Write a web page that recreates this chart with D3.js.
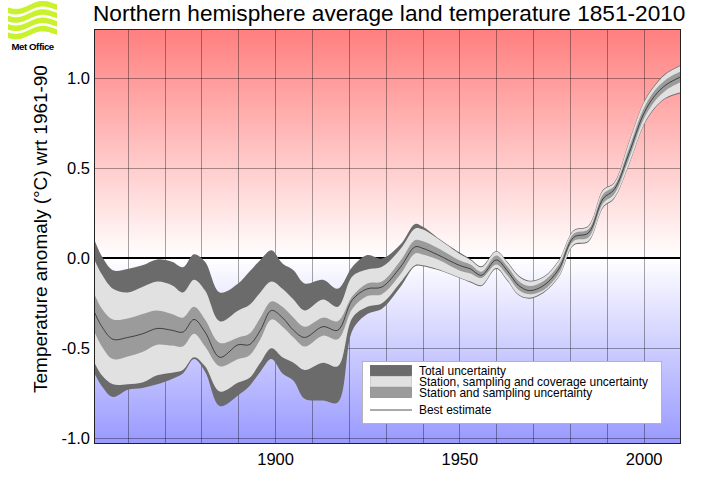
<!DOCTYPE html>
<html><head><meta charset="utf-8">
<script src="https://cdn.jsdelivr.net/npm/d3@7"></script>
<style>html,body{margin:0;padding:0;background:#fff;}svg{display:block;font-family:"Liberation Sans",Arial,Helvetica,sans-serif;}</style>
</head><body>
<script>
// ---- data ----
const years = [1851,1853,1856,1860,1864,1868,1872,1875,1878,1881,1885,1890,1893,1896,1899,1902,1905,1908,1913,1917,1921,1925,1929,1934,1938,1940,1944,1950,1953,1956,1960,1963,1966,1969,1973,1977,1981,1985,1989,1992,1996,2000,2003,2006,2010];
const bestEstimate = [-0.30,-0.38,-0.45,-0.44,-0.42,-0.39,-0.40,-0.41,-0.34,-0.41,-0.55,-0.48,-0.48,-0.40,-0.29,-0.33,-0.40,-0.44,-0.38,-0.40,-0.23,-0.17,-0.16,-0.05,0.063,0.055,0.02,-0.04,-0.06,-0.095,-0.01,-0.07,-0.15,-0.18,-0.15,-0.06,0.115,0.14,0.33,0.38,0.58,0.80,0.90,0.96,1.005];
const stationHi = [-0.20,-0.28,-0.34,-0.335,-0.31,-0.29,-0.31,-0.33,-0.27,-0.34,-0.47,-0.44,-0.42,-0.33,-0.24,-0.27,-0.33,-0.38,-0.33,-0.35,-0.21,-0.14,-0.13,-0.015,0.10,0.095,0.058,-0.012,-0.035,-0.075,0.015,-0.045,-0.125,-0.155,-0.125,-0.035,0.135,0.16,0.355,0.40,0.61,0.83,0.93,0.99,1.035];
const stationLo = [-0.41,-0.49,-0.56,-0.545,-0.52,-0.48,-0.485,-0.49,-0.42,-0.49,-0.60,-0.56,-0.54,-0.45,-0.34,-0.38,-0.44,-0.49,-0.43,-0.45,-0.28,-0.21,-0.20,-0.09,0.026,0.02,-0.006,-0.068,-0.085,-0.11,-0.035,-0.095,-0.175,-0.20,-0.175,-0.085,0.095,0.115,0.305,0.355,0.55,0.77,0.87,0.93,0.975];
const coverageHi = [-0.01,-0.09,-0.17,-0.19,-0.16,-0.13,-0.15,-0.19,-0.12,-0.18,-0.35,-0.29,-0.26,-0.19,-0.13,-0.17,-0.23,-0.29,-0.23,-0.27,-0.10,-0.063,-0.048,0.05,0.165,0.16,0.11,0.025,-0.01,-0.05,0.035,-0.025,-0.10,-0.13,-0.105,-0.015,0.15,0.175,0.375,0.415,0.64,0.86,0.955,1.02,1.065];
const coverageLo = [-0.58,-0.65,-0.70,-0.70,-0.69,-0.65,-0.635,-0.62,-0.55,-0.60,-0.74,-0.69,-0.665,-0.58,-0.50,-0.55,-0.58,-0.62,-0.58,-0.60,-0.33,-0.27,-0.25,-0.135,-0.039,-0.04,-0.06,-0.107,-0.13,-0.15,-0.055,-0.12,-0.20,-0.22,-0.185,-0.10,0.075,0.095,0.285,0.335,0.52,0.74,0.835,0.89,0.92];
const totalHi = [0.10,0.01,-0.067,-0.06,-0.04,-0.007,-0.02,-0.05,0.022,-0.02,-0.19,-0.14,-0.075,-0.01,0.044,-0.03,-0.067,-0.14,-0.12,-0.17,-0.048,0.017,-0.002,0.075,0.19,0.175,0.115,0.032,-0.005,-0.045,0.04,-0.02,-0.095,-0.125,-0.10,-0.01,0.155,0.18,0.38,0.42,0.645,0.865,0.96,1.025,1.07];
const totalLo = [-0.64,-0.71,-0.77,-0.73,-0.72,-0.70,-0.67,-0.64,-0.56,-0.63,-0.82,-0.76,-0.71,-0.63,-0.56,-0.64,-0.68,-0.78,-0.79,-0.80,-0.40,-0.31,-0.28,-0.16,-0.045,-0.045,-0.065,-0.11,-0.135,-0.155,-0.06,-0.125,-0.205,-0.225,-0.19,-0.105,0.07,0.09,0.28,0.33,0.515,0.735,0.83,0.885,0.915];
const xTicks = [1900, 1950, 2000];
const xGrid = [1860,1870,1880,1890,1900,1910,1920,1930,1940,1950,1960,1970,1980,1990,2000];
const yTicks = [-1.0, -0.5, 0.0, 0.5, 1.0];
const yTickLabels = ["-1.0", "-0.5", "0.0", "0.5", "1.0"];
const legendLabels = ["Total uncertainty", "Station, sampling and coverage uncertainty", "Station and sampling uncertainty", "Best estimate"];
const titleText = "Northern hemisphere average land temperature 1851-2010";
const yTitle = "Temperature anomaly (\u00B0C) wrt 1961-90";

// ---- layout ----
const W = 708, H = 504;
const L = 94.5, R = 680.5, T = 29.5, B = 443.5;
const x = d3.scaleLinear().domain([1851, 2010]).range([L, R]);
const y = d3.scaleLinear().domain([-1.028, 1.268]).range([B, T]);
const C = {dark:"#6b6b6b", light:"#e1e1e1", mid:"#9b9b9b", line:"#2a2a2a"};

const svg = d3.select("body").append("svg").attr("width", W).attr("height", H);
const defs = svg.append("defs");
const grad = defs.append("linearGradient").attr("id","bg").attr("x1",0).attr("y1",0).attr("x2",0).attr("y2",1);
const zf = (y(0) - T) / (B - T);
grad.append("stop").attr("offset",0).attr("stop-color","#ff7f7f");
grad.append("stop").attr("offset",zf).attr("stop-color","#ffffff");
grad.append("stop").attr("offset",1).attr("stop-color","#9999ff");
defs.append("clipPath").attr("id","clip").append("rect").attr("x",L).attr("y",T).attr("width",R-L).attr("height",B-T);

svg.append("rect").attr("x",L).attr("y",T).attr("width",R-L).attr("height",B-T).attr("fill","url(#bg)");

// grid
const g = svg.append("g");
g.selectAll("line.v").data(xGrid).join("line").attr("class","v")
  .attr("x1",d=>Math.round(x(d))+0.5).attr("x2",d=>Math.round(x(d))+0.5).attr("y1",T).attr("y2",B)
  .attr("stroke","#000").attr("stroke-opacity",0.35).attr("stroke-width",1);
g.selectAll("line.h").data(yTicks.filter(d=>d!==0)).join("line").attr("class","h")
  .attr("x1",L).attr("x2",R).attr("y1",d=>Math.round(y(d))+0.5).attr("y2",d=>Math.round(y(d))+0.5)
  .attr("stroke","#000").attr("stroke-opacity",0.35).attr("stroke-width",1);
g.append("line").attr("x1",L).attr("x2",R).attr("y1",Math.round(y(0))).attr("y2",Math.round(y(0)))
  .attr("stroke","#000").attr("stroke-width",2);

// bands
const idx = d3.range(years.length);
const curve = d3.curveCatmullRom.alpha(0.5);
const band = (lo, hi) => d3.area().x(i=>x(years[i])).y0(i=>y(lo[i])).y1(i=>y(hi[i])).curve(curve)(idx);
const pg = svg.append("g").attr("clip-path","url(#clip)");
pg.append("path").attr("d", band(totalLo, totalHi)).attr("fill", C.dark);
pg.append("path").attr("d", band(coverageLo, coverageHi)).attr("fill", C.light);
pg.append("path").attr("d", band(stationLo, stationHi)).attr("fill", C.mid);
pg.append("path").attr("d", d3.line().x(i=>x(years[i])).y(i=>y(bestEstimate[i])).curve(curve)(idx))
  .attr("fill","none").attr("stroke",C.line).attr("stroke-width",0.8);

// frame
svg.append("rect").attr("x",L).attr("y",T).attr("width",R-L).attr("height",B-T)
  .attr("fill","none").attr("stroke","#222").attr("stroke-width",1);

// axes
const yAxis = svg.append("g").attr("transform",`translate(${L},0)`)
  .call(d3.axisLeft(y).tickValues(yTicks).tickFormat((d,i)=>yTickLabels[i]).tickSize(0).tickPadding(4.5));
const xAxis = svg.append("g").attr("transform",`translate(0,${B})`)
  .call(d3.axisBottom(x).tickValues(xTicks).tickFormat(d3.format("d")).tickSize(0).tickPadding(10));
[yAxis, xAxis].forEach(a=>{
  a.select(".domain").remove();
  a.selectAll("text").attr("font-family",'"Liberation Sans",Arial,sans-serif').attr("font-size",16.5).attr("fill","#000");
});

function fit(sel, target){
  const fs = parseFloat(sel.attr("font-size"));
  const w = sel.node().getComputedTextLength();
  sel.attr("font-size", fs * target / w);
}

// title
const tt = svg.append("text").attr("x",93).attr("y",21).attr("font-size",21).attr("fill","#000").text(titleText);
fit(tt, 593);

// y title
const yt = svg.append("text").attr("transform","translate(46.5,229) rotate(-90)").attr("text-anchor","middle")
  .attr("font-size",18).attr("fill","#000").text(yTitle);
fit(yt, 328);

// legend
const lg = svg.append("g");
lg.append("rect").attr("x",362.5).attr("y",361.5).attr("width",299).attr("height",62).attr("fill","#fff").attr("stroke","#b4b4b4");
const sw = [{f:C.dark,s:"#5e5e5e"},{f:C.light,s:"#c8c8c8"},{f:C.mid,s:"#8c8c8c"}];
sw.forEach((d,i)=>{
  lg.append("rect").attr("x",370.5).attr("y",365.5+i*11).attr("width",41).attr("height",10).attr("fill",d.f).attr("stroke",d.s).attr("stroke-width",0.8);
});
lg.append("line").attr("x1",370).attr("x2",412).attr("y1",410).attr("y2",410).attr("stroke",C.line).attr("stroke-width",0.8);
const lys = [375, 385.5, 396.5, 413.5];
const lt = lg.selectAll("text").data(legendLabels).join("text").attr("x",419).attr("y",(d,i)=>lys[i])
  .attr("font-size",11).attr("fill","#000").text(d=>d);
const fs2 = 11 * 229 / lt.filter((d,i)=>i===1).node().getComputedTextLength();
lt.attr("font-size", fs2);

// logo
const logo = svg.append("g");
for (let k=0;k<4;k++){
  const top = [], bot = [];
  for (let px=8; px<=57; px+=1){
    const t = (px-8)/49;
    const yc = 9 + k*8.3 + 3.2*Math.sin(t*2*Math.PI*1.0 + 0.4) - 3*t;
    top.push([px, yc-2.8]); bot.push([px, yc+2.8]);
  }
  logo.append("path").attr("d", d3.line()(top.concat(bot.reverse())) + "Z").attr("fill","#c9f22c");
}
const lo = svg.append("text").attr("x",11.5).attr("y",50).attr("font-size",10).attr("font-weight","bold")
  .attr("letter-spacing",-0.4).attr("fill","#000").text("Met Office");
fit(lo, 42.5);
</script>
</body></html>
